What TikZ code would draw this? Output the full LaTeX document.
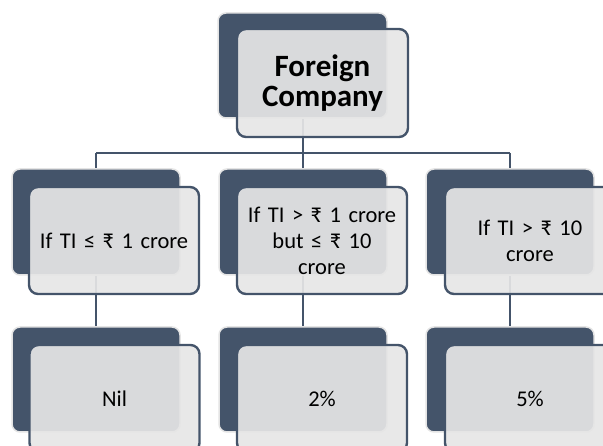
\documentclass[tikz,border=0pt]{standalone}
\usepackage{fontspec}
\setmainfont{Carlito}
\definecolor{slate}{HTML}{44546A}
\definecolor{paper}{HTML}{E6E6E6}
\definecolor{backedge}{HTML}{E4E4E4}
\tikzset{
  link/.style={draw=slate, line width=2.4pt},
  backbox/.style={fill=slate, draw=backedge, line width=1.5pt,
    rounded corners=8pt, minimum width=168pt, minimum height=105pt, inner sep=0pt},
  frontbox/.style={fill=paper, fill opacity=0.92, text opacity=1, draw=slate,
    line width=2.4pt, rounded corners=9pt, minimum width=170pt, minimum height=107pt,
    inner sep=0pt, align=center, text width=160pt, text=black},
  headtext/.style={font=\fontsize{31}{30}\selectfont\bfseries},
  bodytext/.style={font=\fontsize{22.5}{26}\selectfont},
}
\begin{document}
\begin{tikzpicture}[x=1pt, y=-1pt]
  \useasboundingbox (0,0) rectangle (603,446);
  \clip (0,0) rectangle (603,446);

  % back plates
  \node[backbox, minimum width=169pt] (topb) at (302.5,65.5) {};
  \node[backbox, minimum height=106pt] (lb) at (96,222) {};
  \node[backbox, minimum height=106pt] (mb) at (303,222) {};
  \node[backbox, minimum height=106pt] (rb) at (510,222) {};
  \node[backbox] (lc) at (96,379.5) {};
  \node[backbox] (mc) at (303,379.5) {};
  \node[backbox] (rc) at (510,379.5) {};

  % connectors
  \coordinate (busL) at (96,153);
  \coordinate (busM) at (303,153);
  \coordinate (busR) at (510,153);
  \draw[link] (busL) -- (busR);
  \draw[link] (topb.south -| busM) -- (busM);
  \draw[link] (busL) -- (lb.north);
  \draw[link] (busM) -- (mb.north);
  \draw[link] (busR) -- (rb.north);
  \draw[link] (lb.south) -- (lc.north);
  \draw[link] (mb.south) -- (mc.north);
  \draw[link] (rb.south) -- (rc.north);

  % front cards
  \node[frontbox, minimum width=171pt, minimum height=108pt, headtext] (top) at (322.5,83) {Foreign\\Company};
  \node[frontbox, bodytext] (l) at (114,240.5) {If TI ≤ ₹ 1 crore};
  \node[frontbox, bodytext] (m) at (322,240.5) {If TI > ₹ 1 crore\\but ≤ ₹ 10\\crore};
  \node[frontbox, bodytext] (r) at (530,240.5) {If TI > ₹ 10\\crore};
  \node[frontbox, bodytext] (lx) at (114.5,398.5) {Nil};
  \node[frontbox, bodytext] (mx) at (322,398.5) {2\%};
  \node[frontbox, bodytext] (rx) at (530,398.5) {5\%};
\end{tikzpicture}
\end{document}
